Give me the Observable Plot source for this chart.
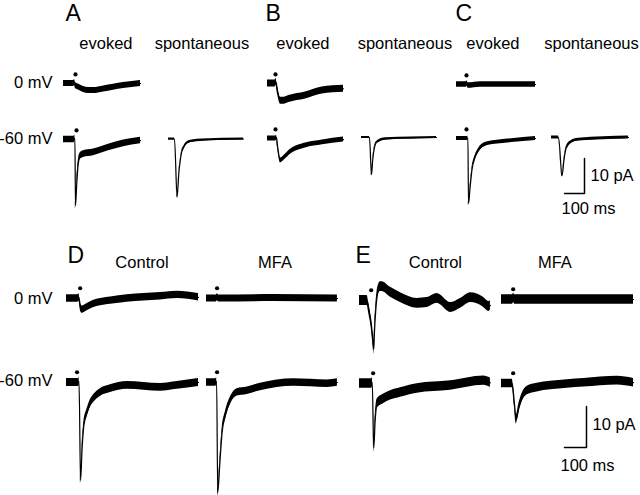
<!DOCTYPE html>
<html>
<head>
<meta charset="utf-8">
<script src="https://cdn.jsdelivr.net/npm/d3@7"></script>
<script src="https://cdn.jsdelivr.net/npm/@observablehq/plot@0.6"></script>
<style>
  html, body { margin: 0; padding: 0; background: #fff; }
  #chart svg { display: block; }
</style>
</head>
<body>
<div id="chart"></div>
<script>
// ---------- DATA: sweeps as [time (ms from sweep start), current (pA re. baseline)] ----------
// Top row (A, B, C): evoked and spontaneous currents at 0 mV and -60 mV
const A_evoked_0mV   = [[0,0],[50,0],[55,0.3],[60,-0.6],[77,-1.1],[100,-1.7],[125,-2.0],[160,-2.0],[200,-1.6],[250,-1.1],[300,-0.6],[385,0]];
const A_evoked_60mV  = [[0,0],[52,0],[57,0.3],[60,-18.9],[66,-12.9],[73,-7.4],[83,-4.8],[100,-4.2],[150,-3.7],[225,-2.3],[300,-1.1],[385,-0.3]];
const A_spont_60mV   = [[0,0],[30,0],[43,-16.6],[52,-9.5],[58,-6.5],[65,-4.0],[77,-2.3],[93,-1.1],[118,-0.6],[168,-0.3],[375,0]];
const B_evoked_0mV   = [[0,0],[38,0],[42,0.5],[50,-2.0],[65,-4.9],[82,-4.9],[107,-4.4],[190,-3.4],[273,-2.0],[380,-1.5]];
const B_evoked_60mV  = [[0,0],[42,0],[45,0.3],[50,-2.0],[65,-6.3],[85,-5.4],[110,-4.0],[190,-2.0],[275,-1.1],[380,-0.3]];
const B_spont_60mV   = [[0,0],[40,0],[50,-10.6],[56,-6.5],[62,-3.7],[70,-1.9],[78,-1.3],[120,-0.4],[375,0]];
const C_evoked_0mV   = [[0,0],[48,0],[52,0.3],[58,-0.3],[120,0],[395,0]];
const C_evoked_60mV  = [[0,0],[55,0],[57,0.2],[60,-18.6],[68,-14.0],[77,-9.1],[93,-5.4],[110,-3.4],[143,-1.7],[193,-1.1],[275,-0.6],[395,0]];
const C_spont_60mV   = [[0,0],[35,0],[53,-10.9],[62,-6.6],[73,-3.1],[95,-1.4],[135,-0.6],[385,0]];
// Bottom row (D, E): Control vs MFA at 0 mV and -60 mV
const D_control_0mV  = [[0,0],[52,0],[56,0.3],[64,-2.2],[71,-2.7],[94,-2.1],[124,-1.3],[200,-0.5],[276,0],[427,0.56],[503,0.9],[600,0.3]];
const D_mfa_0mV      = [[0,0],[45,0],[49,0.3],[55,0],[300,0.1],[595,0]];
const D_control_60mV = [[0,0],[54,0],[57,0.3],[64,-23.9],[71,-16.1],[79,-10.5],[94,-7.3],[109,-5.1],[124,-3.9],[155,-2.4],[200,-1.5],[276,-0.7],[427,-1.2],[503,-0.7],[600,0]];
const D_mfa_60mV     = [[0,0],[43,0],[46,0.3],[51,-26.8],[61,-19.4],[71,-12.1],[86,-8.0],[109,-4.4],[139,-2.4],[185,-2.0],[245,-1.1],[397,0],[549,-0.3],[595,0]];
const E_control_0mV  = [[0,0],[35,0],[42,-2.0],[53,-5.4],[62,-10.2],[65,-11.9],[68,-7.8],[74,-2.4],[83,2.0],[95,3.4],[103,3.4],[141,2.0],[186,0.7],[262,-0.7],[308,-0.5],[353,0.5],[414,-1.7],[459,-0.7],[505,0.7],[565,-0.5],[588,-1.5],[595,-1.2]];
const E_mfa_0mV      = [[0,0],[50,0],[55,0.4],[60,0],[300,0],[600,0]];
const E_control_60mV = [[0,0],[55,0],[58,0.3],[65,-15.7],[71,-9.3],[80,-4.9],[110,-3.7],[141,-2.9],[186,-2.2],[262,-1.2],[414,-0.5],[565,0.7],[595,0.2]];
const E_mfa_60mV     = [[0,0],[49,0],[58,-4.4],[67,-8.8],[79,-5.9],[94,-3.4],[117,-1.7],[162,-1.0],[223,-0.5],[374,0.2],[526,0.7],[600,0.2]];

// stimulus times (ms from sweep start), marked by a dot
const stimTop    = {A0: 60, A60: 65, B0: 40, B60: 40, C0: 50, C60: 50};
const stimBottom = {D0: 62, D60: 48, M0: 48, M60: 48, E0: 53, E60: 62, N0: 53, N60: 53};

// text
const panelLetters = ["A", "B", "C", "D", "E"];
const topColumns   = ["evoked", "spontaneous", "evoked", "spontaneous", "evoked", "spontaneous"];
const bottomColumns= ["Control", "MFA", "Control", "MFA"];
const holdLabels   = ["0 mV", "-60 mV"];
const scaleBarPA   = 10;   // pA
const scaleBarMS   = 100;  // ms

// ---------- LAYOUT (sweep origins in ms / pA of each half's scales) ----------
const FONT = "Liberation Sans, Arial, Helvetica, sans-serif";

const topSweeps = [
  {id:"A0",  values:A_evoked_0mV,  x0:315,  y0:-23.71, noise:0.85, stim:stimTop.A0},
  {id:"A60", values:A_evoked_60mV, x0:315,  y0:-39.71, noise:0.95, stim:stimTop.A60},
  {id:"As",  values:A_spont_60mV,  x0:840,  y0:-39.57, noise:0.30},
  {id:"B0",  values:B_evoked_0mV,  x0:1335, y0:-23.71, noise:1.00, stim:stimTop.B0},
  {id:"B60", values:B_evoked_60mV, x0:1335, y0:-39.43, noise:0.70, stim:stimTop.B60},
  {id:"Bs",  values:B_spont_60mV,  x0:1805, y0:-39.14, noise:0.30},
  {id:"C0",  values:C_evoked_0mV,  x0:2280, y0:-24.00, noise:0.80, stim:stimTop.C0},
  {id:"C60", values:C_evoked_60mV, x0:2280, y0:-39.43, noise:0.55, stim:stimTop.C60},
  {id:"Cs",  values:C_spont_60mV,  x0:2755, y0:-39.14, noise:0.40}
];
const bottomSweeps = [
  {id:"D0",  values:D_control_0mV,  x0:300,    y0:-15.37, noise:0.90, stim:stimBottom.D0},
  {id:"D60", values:D_control_60mV, x0:300,    y0:-35.85, noise:0.95, stim:stimBottom.D60},
  {id:"M0",  values:D_mfa_0mV,      x0:936.4,  y0:-15.37, noise:0.85, stim:stimBottom.M0},
  {id:"M60", values:D_mfa_60mV,     x0:936.4,  y0:-35.85, noise:0.90, stim:stimBottom.M60},
  {id:"E0",  values:E_control_0mV,  x0:1631.8, y0:-15.85, noise:1.20, stim:stimBottom.E0},
  {id:"E60", values:E_control_60mV, x0:1631.8, y0:-36.10, noise:1.15, stim:stimBottom.E60},
  {id:"N0",  values:E_mfa_0mV,      x0:2277.3, y0:-15.61, noise:1.15, stim:stimBottom.N0},
  {id:"N60", values:E_mfa_60mV,     x0:2277.3, y0:-36.10, noise:1.05, stim:stimBottom.N60}
];

function rowsOf(sweeps) {
  return sweeps.flatMap(s => s.values.map(([t, v]) => ({
    id: s.id, x: s.x0 + t, y: s.y0 + v, lo: s.y0 + v - s.noise, hi: s.y0 + v + s.noise
  })));
}
function dotsOf(sweeps, lift) {
  return sweeps.filter(s => s.stim != null).map(s => ({x: s.x0 + s.stim, y: s.y0 + lift}));
}
function scaleBar(cx, cy) {
  return [{x: cx - scaleBarMS, y: cy}, {x: cx, y: cy}, {x: cx, y: cy + scaleBarPA}];
}

function half({height, xMax, yMin, sweeps, lift, bar, letters, heads, rowsLab, barText}) {
  const marks = [
    Plot.areaY(rowsOf(sweeps), {x: "x", y1: "lo", y2: "hi", z: "id", fill: "#000", curve: "monotone-x"}),
    Plot.line(rowsOf(sweeps), {x: "x", y: "y", z: "id", stroke: "#000", strokeWidth: 1.2, curve: "monotone-x"}),
    Plot.dot(dotsOf(sweeps, lift), {x: "x", y: "y", r: 2.1, fill: "#000", stroke: "none"}),
    Plot.line(scaleBar(bar[0], bar[1]), {x: "x", y: "y", stroke: "#000", strokeWidth: 1.5}),
    Plot.text(letters, {x: "x", y: "y", text: "t", textAnchor: "start", lineAnchor: "middle", fontSize: 23, fontFamily: FONT, fill: "#000"}),
    Plot.text(heads, {x: "x", y: "y", text: "t", textAnchor: "middle", lineAnchor: "middle", fontSize: 16.5, fontFamily: FONT, fill: "#000"}),
    Plot.text(rowsLab, {x: "x", y: "y", text: "t", textAnchor: "end", lineAnchor: "middle", fontSize: 16.5, fontFamily: FONT, fill: "#000"}),
    Plot.text(barText, {x: "x", y: "y", text: "t", textAnchor: "start", lineAnchor: "middle", fontSize: 16.5, fontFamily: FONT, fill: "#000"})
  ];
  return Plot.plot({
    width: 640, height,
    marginTop: 0, marginRight: 0, marginBottom: 0, marginLeft: 0,
    x: {domain: [0, xMax], axis: null},
    y: {domain: [yMin, 0], axis: null},
    style: {background: "#fff", overflow: "visible"},
    marks
  });
}

const topHalf = half({
  height: 235, xMax: 3200, yMin: -235 / 3.5,
  sweeps: topSweeps, lift: 2.6, bar: [2920, -55.14],
  letters: [{t: panelLetters[0], x: 325, y: -3.61}, {t: panelLetters[1], x: 1325, y: -3.61}, {t: panelLetters[2], x: 2275, y: -3.61}],
  heads: [527, 1007, 1512, 2022, 2462, 2955].map((x, i) => ({t: topColumns[i], x, y: -12.49})),
  rowsLab: [{t: holdLabels[0], x: 260, y: -23.63}, {t: holdLabels[1], x: 260, y: -39.35}],
  barText: [{t: scaleBarPA + " pA", x: 2950, y: -49.92}, {t: scaleBarMS + " ms", x: 2805, y: -59.35}]
});

const bottomHalf = half({
  height: 260, xMax: 640 / 0.22, yMin: -260 / 4.1,
  sweeps: bottomSweeps, lift: 2.5, bar: [2663.6, -51.71],
  letters: [{t: panelLetters[3], x: 304.5, y: -5.03}, {t: panelLetters[4], x: 1613.6, y: -5.03}],
  heads: [643, 1247.7, 1977, 2520].map((x, i) => ({t: bottomColumns[i], x, y: -6.52})),
  rowsLab: [{t: holdLabels[0], x: 236.4, y: -15.37}, {t: holdLabels[1], x: 236.4, y: -35.30}],
  barText: [{t: scaleBarPA + " pA", x: 2690.9, y: -46.10}, {t: scaleBarMS + " ms", x: 2545.5, y: -56.03}]
});

document.getElementById("chart").append(topHalf, bottomHalf);
</script>
</body>
</html>
